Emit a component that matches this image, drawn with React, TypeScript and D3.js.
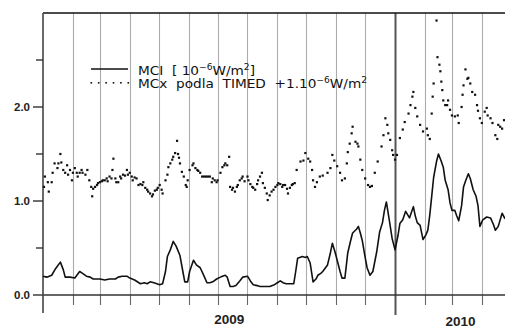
import React, { useRef, useEffect } from "react";
import * as d3 from "d3";

// day offset from 2009-01-01, value in 1e-6 W/m^2
const mciDays = [0, 4, 9, 13, 18, 21, 23, 28, 33, 38, 41, 45, 49, 52, 59, 64, 69, 75, 78, 82, 87, 90, 95, 101, 105, 108, 111, 115, 118, 121, 124, 127, 129, 132, 135, 138, 142, 145, 147, 150, 152, 156, 159, 163, 167, 170, 173, 176, 180, 184, 186, 189, 191, 194, 197, 200, 204, 207, 212, 215, 218, 222, 225, 230, 235, 240, 243, 246, 249, 252, 256, 260, 262, 264, 269, 272, 274, 277, 280, 283, 285, 288, 290, 295, 298, 300, 303, 305, 308, 310, 313, 316, 319, 321, 325, 327, 329, 331, 334, 336, 339, 342, 346, 349, 352, 354, 356, 359, 362, 365, 368, 370, 373, 376, 380, 382, 384, 386, 388, 391, 394, 397, 399, 401, 403, 405, 408, 410, 413, 415, 417, 420, 422, 424, 427, 429, 431, 434, 436, 438, 441, 443, 446, 449, 451, 453, 456, 460, 464, 467, 469, 472, 476, 479];
const mciValues = [0.2, 0.19, 0.21, 0.28, 0.35, 0.27, 0.19, 0.19, 0.18, 0.25, 0.23, 0.2, 0.19, 0.17, 0.17, 0.16, 0.17, 0.17, 0.19, 0.2, 0.2, 0.18, 0.16, 0.12, 0.13, 0.12, 0.14, 0.13, 0.12, 0.11, 0.12, 0.25, 0.41, 0.48, 0.57, 0.52, 0.42, 0.25, 0.14, 0.14, 0.25, 0.37, 0.32, 0.29, 0.2, 0.13, 0.13, 0.14, 0.17, 0.19, 0.2, 0.21, 0.19, 0.09, 0.09, 0.1, 0.15, 0.19, 0.2, 0.15, 0.11, 0.1, 0.09, 0.09, 0.09, 0.11, 0.13, 0.15, 0.13, 0.12, 0.12, 0.12, 0.25, 0.39, 0.41, 0.4, 0.41, 0.34, 0.14, 0.17, 0.21, 0.23, 0.25, 0.32, 0.45, 0.55, 0.45, 0.37, 0.25, 0.18, 0.18, 0.45, 0.58, 0.66, 0.7, 0.73, 0.66, 0.58, 0.4, 0.29, 0.21, 0.25, 0.46, 0.67, 0.77, 0.9, 0.99, 0.8, 0.6, 0.48, 0.63, 0.76, 0.8, 0.89, 0.82, 0.88, 0.94, 0.84, 0.77, 0.74, 0.59, 0.64, 0.69, 0.85, 1.05, 1.25, 1.42, 1.5, 1.42, 1.36, 1.22, 1.12, 0.98, 0.9, 0.9, 0.84, 0.79, 0.95, 1.15, 1.21, 1.29, 1.24, 1.12, 1.05, 0.95, 0.73, 0.8, 0.83, 0.82, 0.75, 0.69, 0.73, 0.87, 0.81];

// MCx from TIMED, already shifted by +1.0
const mcxDays = [1, 2, 5, 6, 9, 10, 12, 15, 16, 18, 19, 21, 23, 25, 26, 28, 30, 31, 33, 35, 36, 38, 40, 41, 44, 46, 48, 50, 51, 52, 54, 56, 57, 59, 61, 62, 64, 66, 67, 69, 71, 72, 73, 75, 76, 78, 80, 81, 83, 85, 87, 88, 90, 92, 93, 95, 97, 99, 101, 103, 104, 106, 108, 109, 111, 113, 114, 116, 118, 119, 121, 123, 124, 127, 129, 130, 132, 134, 135, 137, 139, 140, 141, 142, 144, 146, 148, 149, 150, 152, 155, 156, 158, 160, 161, 163, 165, 167, 169, 171, 173, 175, 176, 178, 180, 181, 184, 186, 188, 189, 191, 193, 194, 196, 197, 199, 201, 202, 204, 206, 207, 209, 212, 213, 215, 217, 218, 220, 222, 223, 225, 227, 228, 230, 232, 233, 235, 237, 239, 241, 243, 244, 246, 248, 249, 251, 253, 254, 256, 258, 259, 261, 263, 267, 270, 272, 275, 277, 279, 280, 282, 284, 287, 290, 295, 298, 300, 302, 305, 308, 310, 313, 315, 316, 318, 320, 321, 324, 326, 327, 329, 331, 334, 337, 339, 341, 344, 347, 351, 353, 355, 357, 358, 360, 362, 363, 365, 367, 370, 373, 375, 379, 381, 383, 384, 386, 388, 391, 394, 398, 399, 401, 403, 404, 405, 408, 409, 411, 412, 413, 414, 415, 417, 419, 420, 422, 424, 427, 430, 431, 434, 435, 436, 438, 440, 441, 443, 445, 448, 450, 451, 453, 455, 458, 460, 461, 464, 466, 469, 471, 472, 474, 476, 478];
const mcxValues = [1.15, 1.26, 1.2, 1.1, 1.2, 1.3, 1.4, 1.35, 1.4, 1.5, 1.41, 1.33, 1.3, 1.38, 1.28, 1.33, 1.22, 1.3, 1.35, 1.3, 1.26, 1.3, 1.33, 1.3, 1.28, 1.33, 1.22, 1.15, 1.05, 1.13, 1.15, 1.17, 1.19, 1.2, 1.21, 1.22, 1.22, 1.24, 1.21, 1.26, 1.24, 1.33, 1.45, 1.24, 1.2, 1.2, 1.26, 1.24, 1.28, 1.27, 1.33, 1.28, 1.3, 1.26, 1.22, 1.25, 1.24, 1.17, 1.18, 1.17, 1.2, 1.14, 1.12, 1.1, 1.08, 1.05, 1.07, 1.11, 1.12, 1.14, 1.17, 1.12, 1.08, 1.22, 1.28, 1.36, 1.4, 1.44, 1.47, 1.51, 1.64, 1.5, 1.46, 1.4, 1.31, 1.26, 1.17, 1.15, 1.22, 1.33, 1.38, 1.4, 1.35, 1.33, 1.32, 1.3, 1.26, 1.26, 1.26, 1.26, 1.26, 1.2, 1.24, 1.22, 1.2, 1.22, 1.3, 1.36, 1.38, 1.4, 1.38, 1.47, 1.15, 1.12, 1.14, 1.1, 1.15, 1.17, 1.22, 1.24, 1.26, 1.21, 1.26, 1.22, 1.18, 1.15, 1.14, 1.12, 1.18, 1.22, 1.26, 1.3, 1.19, 1.14, 1.08, 1.01, 1.06, 1.1, 1.12, 1.15, 1.17, 1.19, 1.18, 1.15, 1.17, 1.17, 1.13, 1.08, 1.14, 1.17, 1.18, 1.19, 1.33, 1.42, 1.43, 1.51, 1.45, 1.42, 1.33, 1.22, 1.15, 1.2, 1.26, 1.27, 1.3, 1.35, 1.49, 1.43, 1.37, 1.3, 1.22, 1.24, 1.4, 1.52, 1.61, 1.72, 1.79, 1.63, 1.61, 1.58, 1.44, 1.33, 1.24, 1.17, 1.15, 1.16, 1.3, 1.42, 1.58, 1.7, 1.88, 1.81, 1.72, 1.65, 1.54, 1.49, 1.44, 1.49, 1.67, 1.76, 1.84, 1.93, 2.02, 2.11, 2.16, 1.99, 1.9, 1.81, 1.74, 1.77, 1.7, 1.66, 1.93, 2.11, 2.25, 2.92, 2.53, 2.45, 2.38, 2.27, 2.18, 2.07, 2.02, 2.02, 2.07, 1.97, 1.91, 1.9, 1.91, 1.83, 2.0, 2.13, 2.23, 2.4, 2.3, 2.31, 2.25, 2.16, 2.13, 2.02, 1.96, 1.88, 1.83, 1.95, 1.99, 1.91, 1.88, 1.83, 1.7, 1.66, 1.81, 1.79, 1.77, 1.86];

const yMajorTicks = [0, 1, 2];
const yMinorTicks = [0.5, 1.5, 2.5];
const yearLabels = [
  { label: "2009", date: new Date(2009, 6, 13), baseline: 324 },
  { label: "2010", date: new Date(2010, 2, 10), baseline: 325.5 },
];

function App() {
  const svgRef = useRef<SVGSVGElement>(null);

  useEffect(() => {
    document.body.style.margin = "0";
    const svg = d3.select(svgRef.current);
    svg.selectAll("*").remove();

    const width = 505;
    const left = 43;
    const top = 13;
    const bottom = 295;

    const start = new Date(2009, 0, 1);
    const day = (d: number) => d3.timeDay.offset(start, d);

    const x = d3
      .scaleTime()
      .domain([start, new Date(2010, 3, 25)])
      .range([left, width]);
    const y = d3.scaleLinear().domain([0, 3]).range([bottom, top]);

    const g = svg.append("g");

    // month grid lines
    const months = d3.timeMonth.range(new Date(2009, 1, 1), new Date(2010, 3, 25));
    months.forEach((m) => {
      const isYear = m.getMonth() === 0;
      const px = Math.round(x(m)) + 0.5;
      g.append("line")
        .attr("x1", px)
        .attr("x2", px)
        .attr("y1", top)
        .attr("y2", isYear ? 315 : bottom)
        .attr("stroke", isYear ? "#555" : "#ababab")
        .attr("stroke-width", isYear ? 2 : 1.1);
      if (!isYear) {
        g.append("line")
          .attr("x1", px)
          .attr("x2", px)
          .attr("y1", bottom)
          .attr("y2", bottom + 10)
          .attr("stroke", "#666")
          .attr("stroke-width", 1.1);
      }
    });

    // frame
    g.append("line")
      .attr("x1", left)
      .attr("x2", width)
      .attr("y1", top)
      .attr("y2", top)
      .attr("stroke", "#111")
      .attr("stroke-width", 1.6);
    g.append("line")
      .attr("x1", left)
      .attr("x2", width)
      .attr("y1", bottom)
      .attr("y2", bottom)
      .attr("stroke", "#333")
      .attr("stroke-width", 1.6);
    g.append("line")
      .attr("x1", left)
      .attr("x2", left)
      .attr("y1", top)
      .attr("y2", 313)
      .attr("stroke", "#444")
      .attr("stroke-width", 1.6);

    // y ticks
    yMajorTicks.forEach((t) => {
      g.append("line")
        .attr("x1", left - 10)
        .attr("x2", left)
        .attr("y1", y(t))
        .attr("y2", y(t))
        .attr("stroke", "#333")
        .attr("stroke-width", 1.4);
      g.append("text")
        .attr("x", 30)
        .attr("y", y(t) + 4)
        .attr("text-anchor", "end")
        .attr("font-family", "Liberation Sans, Arial, sans-serif")
        .attr("font-weight", "bold")
        .attr("font-size", 11.5)
        .attr("fill", "#222")
        .text(d3.format(".1f")(t));
    });
    yMinorTicks.forEach((t) => {
      g.append("line")
        .attr("x1", left - 7)
        .attr("x2", left)
        .attr("y1", y(t))
        .attr("y2", y(t))
        .attr("stroke", "#333")
        .attr("stroke-width", 1.4);
    });

    // year labels
    yearLabels.forEach((yl) => {
      g.append("text")
        .attr("x", x(yl.date))
        .attr("y", yl.baseline)
        .attr("text-anchor", "middle")
        .attr("font-family", "Liberation Sans, Arial, sans-serif")
        .attr("font-weight", "bold")
        .attr("font-size", 13.5)
        .attr("fill", "#222")
        .text(yl.label);
    });

    // MCI line
    const line = d3
      .line<number>()
      .x((d, i) => x(day(mciDays[i])))
      .y((d) => y(d));
    g.append("path")
      .attr("d", line(mciValues))
      .attr("fill", "none")
      .attr("stroke", "#111")
      .attr("stroke-width", 1.6)
      .attr("stroke-linejoin", "round");

    // MCx dots
    g.selectAll(".dot")
      .data(mcxValues)
      .enter()
      .append("rect")
      .attr("class", "dot")
      .attr("x", (d, i) => x(day(mcxDays[i])) - 1.1)
      .attr("y", (d) => y(d) - 1.1)
      .attr("width", 2.2)
      .attr("height", 2.2)
      .attr("fill", "#111");

    // legend
    const legend = svg.append("g");
    legend
      .append("line")
      .attr("x1", 91)
      .attr("x2", 128)
      .attr("y1", 69)
      .attr("y2", 69)
      .attr("stroke", "#111")
      .attr("stroke-width", 1.3);
    d3.range(6).forEach((i) => {
      legend
        .append("rect")
        .attr("x", 90.5 + i * 7.4)
        .attr("y", 82)
        .attr("width", 1.6)
        .attr("height", 1.6)
        .attr("fill", "#111");
    });

    const t1 = legend
      .append("text")
      .attr("x", 138)
      .attr("y", 75)
      .attr("font-family", "DejaVu Sans, sans-serif")
      .attr("font-size", 12)
      .attr("fill", "#111")
      .attr("textLength", 117)
      .attr("lengthAdjust", "spacingAndGlyphs")
      .style("white-space", "pre");
    t1.append("tspan").text("MCI  [ 10");
    t1.append("tspan").attr("dy", -5).attr("font-size", 8).text("−6");
    t1.append("tspan").attr("dy", 5).text("W/m");
    t1.append("tspan").attr("dy", -5).attr("font-size", 8).text("2");
    t1.append("tspan").attr("dy", 5).text("]");

    const t2 = legend
      .append("text")
      .attr("x", 138)
      .attr("y", 88)
      .attr("font-family", "DejaVu Sans, sans-serif")
      .attr("font-size", 12)
      .attr("fill", "#111")
      .attr("textLength", 229)
      .attr("lengthAdjust", "spacingAndGlyphs")
      .style("white-space", "pre");
    t2.append("tspan").text("MCx  podla  TIMED  +1.10");
    t2.append("tspan").attr("dy", -5).attr("font-size", 8).text("−6");
    t2.append("tspan").attr("dy", 5).text("W/m");
    t2.append("tspan").attr("dy", -5).attr("font-size", 8).text("2");
  }, []);

  return (
    <svg
      ref={svgRef}
      width={505}
      height={327}
      style={{ display: "block", background: "#fff" }}
    ></svg>
  );
}

export default App;
